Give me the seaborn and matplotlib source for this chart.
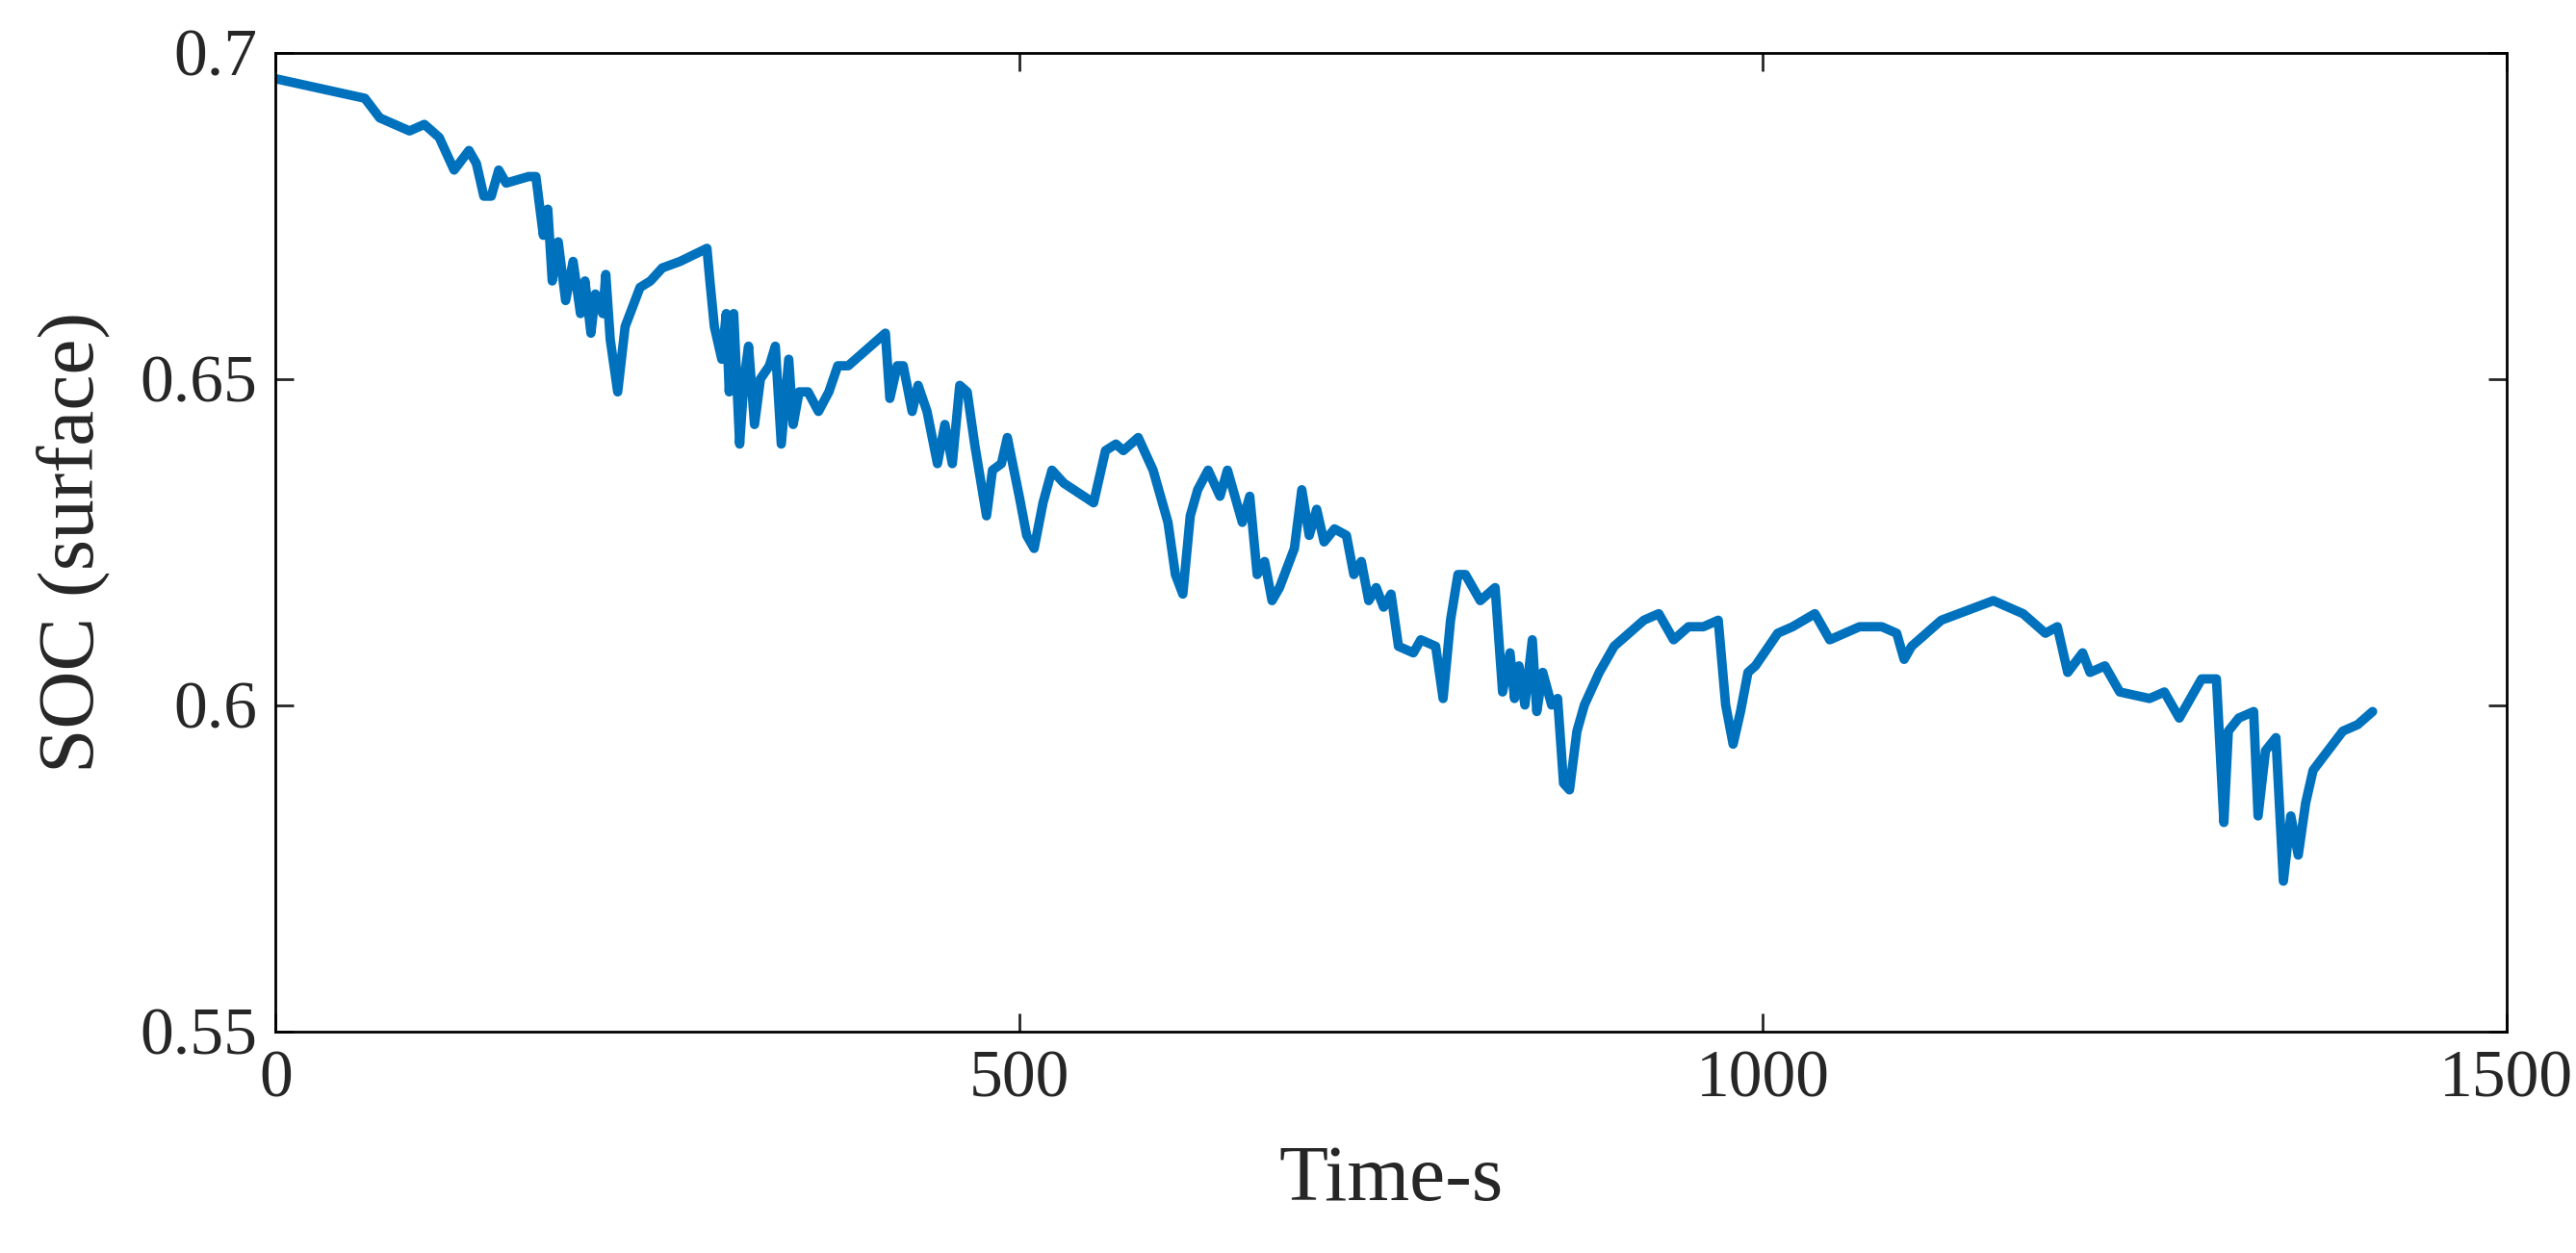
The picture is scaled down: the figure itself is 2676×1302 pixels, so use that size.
import matplotlib
matplotlib.use("Agg")
import matplotlib.pyplot as plt
import seaborn as sns
import pandas as pd

time_s = [0,60,70,90,100,110,120,130,135,140,145,150,155,170,175,180,183,186,190,195,200,205,208,212,215,220,222,225,230,235,245,260,290,292,295,300,303,305,308,312,315,318,322,326,332,336,340,345,348,352,358,365,372,378,385,395,410,413,418,422,428,432,438,445,450,455,460,465,470,478,482,488,492,500,505,510,516,522,530,550,558,565,570,580,590,600,605,610,615,620,627,635,640,645,650,655,660,665,670,675,685,690,695,700,705,712,720,725,730,735,740,745,750,755,765,770,780,785,790,795,800,810,820,825,830,833,836,840,845,848,852,858,862,866,870,880,900,920,930,940,950,960,970,975,980,985,990,1010,1035,1045,1055,1065,1080,1090,1095,1100,1120,1155,1175,1190,1198,1205,1215,1220,1230,1240,1260,1270,1280,1295,1305,1310,1313,1320,1330,1333,1338,1345,1350,1355,1360,1370,1390,1410,
          240,252,272,875,890,910,995,1020,1365,1380,1400]
soc = [0.696,0.693,0.690,0.688,0.689,0.687,0.682,0.685,0.683,0.678,0.678,0.682,0.680,0.681,0.681,0.672,0.676,0.665,0.671,0.662,0.668,0.660,0.665,0.657,0.663,0.660,0.666,0.656,0.648,0.658,0.664,0.667,0.670,0.665,0.658,0.653,0.660,0.648,0.660,0.640,0.650,0.655,0.643,0.650,0.652,0.655,0.640,0.653,0.643,0.648,0.648,0.645,0.648,0.652,0.652,0.654,0.657,0.647,0.652,0.652,0.645,0.649,0.645,0.637,0.643,0.637,0.649,0.648,0.640,0.629,0.636,0.637,0.641,0.632,0.626,0.624,0.631,0.636,0.634,0.631,0.639,0.640,0.639,0.641,0.636,0.628,0.620,0.617,0.629,0.633,0.636,0.632,0.636,0.632,0.628,0.632,0.620,0.622,0.616,0.618,0.624,0.633,0.626,0.630,0.625,0.627,0.626,0.620,0.622,0.616,0.618,0.615,0.617,0.609,0.608,0.610,0.609,0.601,0.613,0.620,0.620,0.616,0.618,0.602,0.608,0.601,0.606,0.600,0.610,0.599,0.605,0.600,0.601,0.588,0.587,0.600,0.609,0.613,0.614,0.610,0.612,0.612,0.613,0.600,0.594,0.599,0.605,0.611,0.614,0.610,0.611,0.612,0.612,0.611,0.607,0.609,0.613,0.616,0.614,0.611,0.612,0.605,0.608,0.605,0.606,0.602,0.601,0.602,0.598,0.604,0.604,0.582,0.596,0.598,0.599,0.583,0.593,0.595,0.573,0.583,0.577,0.590,0.596,0.599,
       0.661,0.665,0.668,0.596,0.605,0.611,0.606,0.612,0.585,0.593,0.597]
x_ticks = [0, 500, 1000, 1500]
y_ticks = [0.55, 0.6, 0.65, 0.7]
y_tick_labels = ["0.55", "0.6", "0.65", "0.7"]

sns.set_theme(style="white")
plt.rcParams['font.family'] = ['Liberation Serif', 'DejaVu Serif']

df = pd.DataFrame({"t": time_s, "soc": soc}).sort_values("t")
fig = plt.figure(figsize=(26.76, 13.02), dpi=100)
ax = fig.add_axes([0.107, 0.177, 0.866, 0.781])
sns.lineplot(data=df, x="t", y="soc", ax=ax, color="#0072BD", linewidth=7, sort=False)
ax.set_xlim(0, 1500)
ax.set_ylim(0.55, 0.7)
ax.set_xticks(x_ticks)
ax.set_yticks(y_ticks)
ax.set_yticklabels(y_tick_labels)
ax.set_xlabel("Time-s", fontsize=60, labelpad=25)
ax.set_ylabel("SOC (surface)", fontsize=60, labelpad=22)
ax.tick_params(direction="in", length=14, width=2, labelsize=50, top=True, right=True,
               bottom=True, left=True, pad=14)
for s in ax.spines.values():
    s.set_color("black")
    s.set_linewidth(2)
fig.savefig("out.png", dpi=100)
